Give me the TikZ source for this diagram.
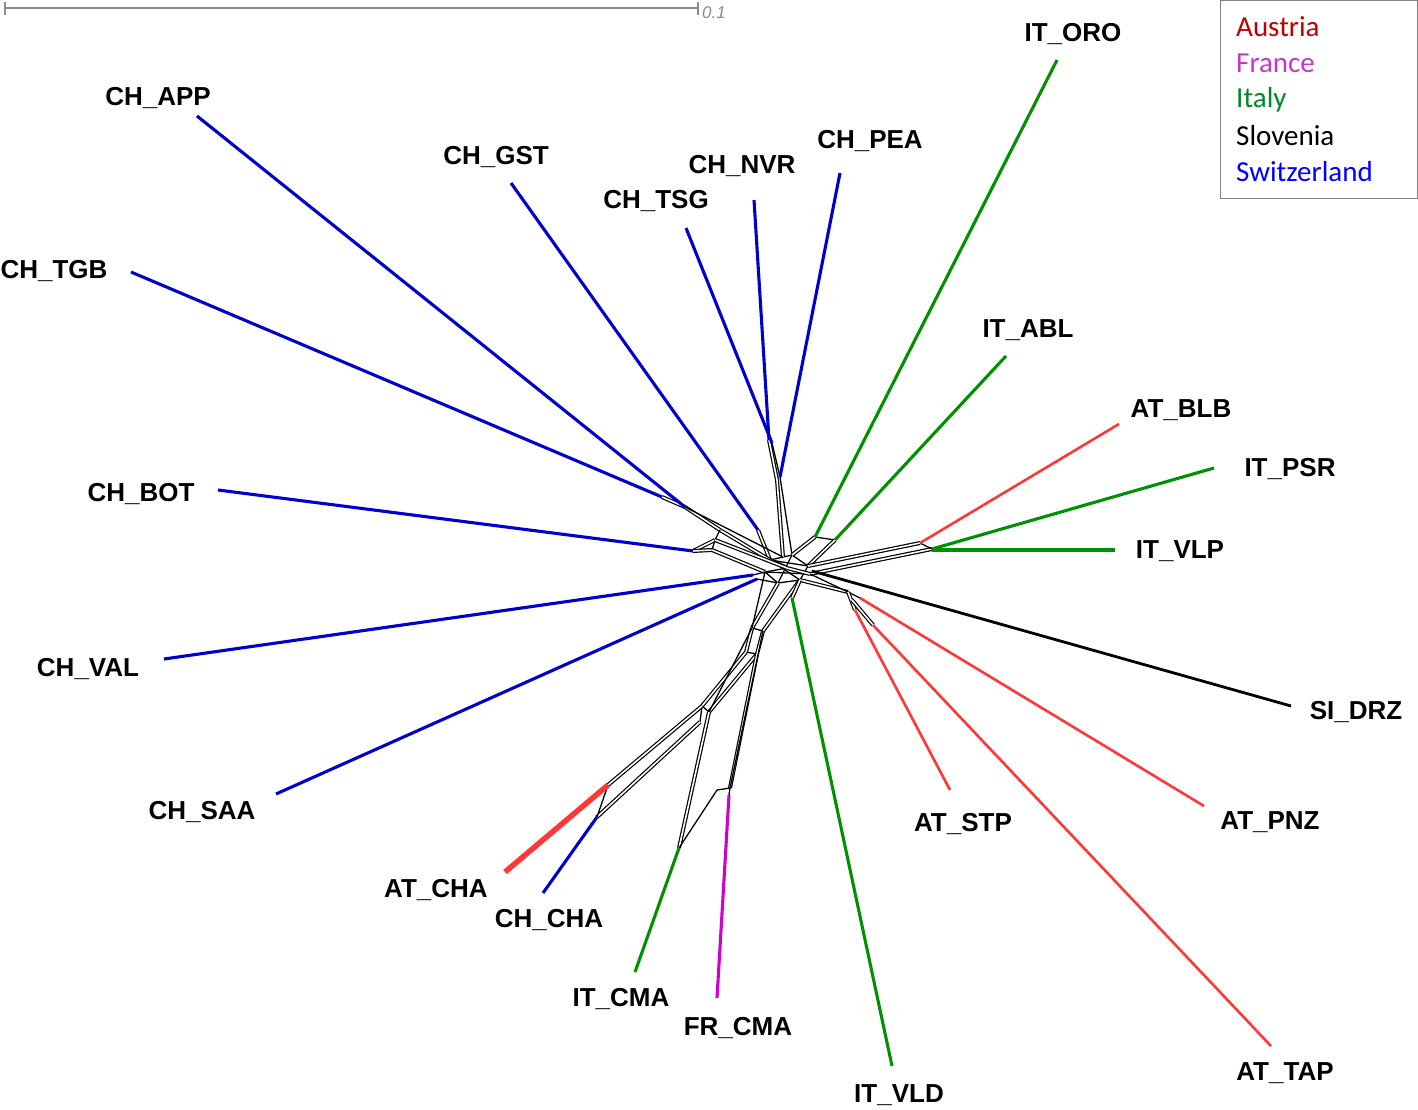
\documentclass[tikz,border=0pt]{standalone}
\usepackage{fontspec}
\setmainfont{Liberation Sans}
\newfontfamily\legfont{Carlito}
\usetikzlibrary{calc}
\definecolor{cblue}{RGB}{0,0,205}
\definecolor{cgreen}{RGB}{0,145,0}
\definecolor{cred}{RGB}{255,55,55}
\definecolor{cmag}{RGB}{205,0,205}
\definecolor{lred}{RGB}{192,0,0}
\definecolor{lmag}{RGB}{204,51,204}
\definecolor{lgreen}{RGB}{0,136,40}
\definecolor{lblue}{RGB}{0,0,255}
\definecolor{sgray}{RGB}{140,140,140}
\begin{document}
\begin{tikzpicture}[x=1pt,y=-1pt,
  lab/.style={font=\fontsize{26}{30}\selectfont\bfseries, inner sep=0pt},
  leg/.style={font=\legfont\fontsize{29}{34}\selectfont, inner sep=0pt, anchor=west},
  leaf/.style={line width=3.1pt},
  net/.style={line width=1.3pt, black},
  dbl/.style={line width=1.2pt, draw=black, double=white, double distance=1.6pt},
]
\useasboundingbox (0,0) rectangle (1418,1110);

% ---------- scale bar ----------
\coordinate (sb1) at (5,8);
\coordinate (sb2) at (698,8);
\draw[sgray, line width=1.6pt] (sb1) -- (sb2);
\draw[sgray, line width=1.4pt] ($(sb1)+(0,-6)$) -- ($(sb1)+(0,7)$);
\draw[sgray, line width=1.4pt] ($(sb2)+(0,-6)$) -- ($(sb2)+(0,7)$);
\node[anchor=west, text=sgray, font=\fontsize{17}{19}\selectfont\itshape, inner sep=0pt] (sbt) at (702,13) {0.1};

% ---------- legend ----------
\node[draw=gray, line width=1pt, minimum width=197pt, minimum height=198pt, inner sep=0pt] (legbox) at (1318.5,100) {};
\node[leg, text=lred]   (l1) at (1236,27)  {Austria};
\node[leg, text=lmag]   (l2) at (1236,63)  {France};
\node[leg, text=lgreen] (l3) at (1236,100) {Italy};
\node[leg, text=black]  (l4) at (1236,136) {Slovenia};
\node[leg, text=lblue]  (l5) at (1236,172) {Switzerland};

% ---------- labels ----------
\node[lab] (tCHAPP) at (158,98)  {CH\_APP};
\node[lab] (tCHGST) at (496,157) {CH\_GST};
\node[lab] (tCHNVR) at (742,166) {CH\_NVR};
\node[lab] (tCHPEA) at (870,141) {CH\_PEA};
\node[lab] (tCHTSG) at (656,201) {CH\_TSG};
\node[lab] (tITORO) at (1073,34) {IT\_ORO};
\node[lab] (tCHTGB) at (54,271)  {CH\_TGB};
\node[lab] (tITABL) at (1028,330) {IT\_ABL};
\node[lab] (tATBLB) at (1181,410) {AT\_BLB};
\node[lab] (tITPSR) at (1290,469) {IT\_PSR};
\node[lab] (tCHBOT) at (141,494) {CH\_BOT};
\node[lab] (tITVLP) at (1180,551) {IT\_VLP};
\node[lab] (tCHVAL) at (88,669)  {CH\_VAL};
\node[lab] (tSIDRZ) at (1356,712) {SI\_DRZ};
\node[lab] (tCHSAA) at (202,812) {CH\_SAA};
\node[lab] (tATSTP) at (963,824) {AT\_STP};
\node[lab] (tATPNZ) at (1270,822) {AT\_PNZ};
\node[lab] (tATCHA) at (436,890) {AT\_CHA};
\node[lab] (tCHCHA) at (549,920) {CH\_CHA};
\node[lab] (tITCMA) at (621,999) {IT\_CMA};
\node[lab] (tFRCMA) at (738,1028) {FR\_CMA};
\node[lab] (tATTAP) at (1285,1073) {AT\_TAP};
\node[lab] (tITVLD) at (899,1095) {IT\_VLD};

% ---------- outer leaf ends ----------
\coordinate (oCHAPP) at (197,116);
\coordinate (oCHGST) at (511,183);
\coordinate (oCHNVR) at (754,200);
\coordinate (oCHPEA) at (840,173);
\coordinate (oCHTSG) at (686,228);
\coordinate (oITORO) at (1057,60);
\coordinate (oCHTGB) at (131,272);
\coordinate (oITABL) at (1006,356);
\coordinate (oATBLB) at (1119,424);
\coordinate (oITPSR) at (1214,468);
\coordinate (oCHBOT) at (218,490);
\coordinate (oITVLP) at (1115,550);
\coordinate (oCHVAL) at (164,659);
\coordinate (oSIDRZ) at (1291,706);
\coordinate (oCHSAA) at (276,794);
\coordinate (oATSTP) at (950,790);
\coordinate (oATPNZ) at (1204,806);
\coordinate (oATCHA) at (505,872);
\coordinate (oCHCHA) at (543,893);
\coordinate (oITCMA) at (635,972);
\coordinate (oFRCMA) at (717,998);
\coordinate (oATTAP) at (1271,1046);
\coordinate (oITVLD) at (892,1066);

% ---------- inner leaf ends ----------
\coordinate (iCHAPP) at (685,507);
\coordinate (iCHGST) at (758,530);
\coordinate (iCHNVR) at (769,440);
\coordinate (iCHPEA) at (780,477);
\coordinate (iCHTSG) at (772,443);
\coordinate (iITORO) at (815,537);
\coordinate (iCHTGB) at (662,497);
\coordinate (iITABL) at (835,540);
\coordinate (iATBLB) at (920,543);
\coordinate (iITPSR) at (932,549);
\coordinate (iCHBOT) at (693,551);
\coordinate (iITVLP) at (932,550);
\coordinate (iCHVAL) at (753,575);
\coordinate (iSIDRZ) at (812,571);
\coordinate (iCHSAA) at (757,579);
\coordinate (iATSTP) at (855,610);
\coordinate (iATPNZ) at (860,598);
\coordinate (iATCHA) at (608,785);
\coordinate (iCHCHA) at (597,817);
\coordinate (iITCMA) at (679,848);
\coordinate (iFRCMA) at (729,795);
\coordinate (iATTAP) at (873,625);
\coordinate (iITVLD) at (792,598);

% ---------- network junctions ----------
\coordinate (u1) at (777,480);
\coordinate (h0) at (783,557);
\coordinate (hA) at (770,560);
\coordinate (hB) at (792,555);
\coordinate (hC) at (808,566);
\coordinate (hC2) at (810,574);
\coordinate (hD) at (800,580);
\coordinate (hE) at (778,583);
\coordinate (hF) at (765,572);
\coordinate (hM) at (787,568);
\coordinate (l1) at (720,530);
\coordinate (l2) at (715,540);
\coordinate (l3) at (712,550);
\coordinate (lbA) at (752,628);
\coordinate (lbA2) at (763,631);
\coordinate (lbB) at (746,652);
\coordinate (lbB2) at (757,654);
\coordinate (lbC) at (702,706);
\coordinate (lbC2) at (709,712);
\coordinate (lbD) at (700,722);
\coordinate (fr1) at (730,788);
\coordinate (fr2) at (717,790);
\coordinate (at0) at (848,592);
\coordinate (at1) at (852,600);

% ---------- black network ----------
% hub tangle
\draw[net] (hA) -- (hC);
\draw[net] (hF) -- (hC2);
\draw[net] (hA) -- (hD);
\draw[net] (hB) -- (hE);
\draw[net] (hA) -- (hB);
\draw[net] (hF) -- (hE);
\draw[net] (hE) -- (hD);
\draw[net] (hB) -- (hC);
\draw[net] (hC) -- (hD);
\draw[net] (hF) -- (hM);
\draw[dbl] (hA) -- (hM);
\draw[dbl] (hM) -- (hC2);
% upper
\draw[dbl] (iCHNVR) -- (u1);
\draw[net] (iCHTSG) -- (iCHPEA);
\draw[dbl] (u1) -- (h0);
\draw[net] (iCHPEA) -- (hB);
% CH_GST
\draw[dbl] (iCHGST) -- (hA);
% left bundle
\draw[dbl] (iCHTGB) -- (iCHAPP);
\draw[dbl] (iCHAPP) -- (l1);
\draw[dbl] (l1) -- (hA);
\draw[net] (iCHAPP) -- (h0);
\draw[dbl] (iCHBOT) -- (l2);
\draw[dbl] (iCHBOT) -- (l3);
\draw[net] (l2) -- (l1);
\draw[net] (l2) -- (l3);
\draw[dbl] (l2) -- (hM);
\draw[dbl] (l3) -- (hF);
% CH_VAL, CH_SAA
\draw[net] (iCHVAL) -- (hF);
\draw[net] (iCHSAA) -- (hE);
% lower bundle
\draw[dbl] (hE) -- (lbA);
\draw[dbl] (hD) -- (lbA2);
\draw[net] (hF) -- (lbA);
\draw[net] (lbA) -- (lbA2);
\draw[net] (lbB) -- (lbB2);
\draw[dbl] (lbA) -- (lbB);
\draw[dbl] (lbA2) -- (lbB2);
\draw[dbl] (lbB) -- (lbC);
\draw[dbl] (lbB2) -- (lbC2);
\draw[net] (lbA) -- (lbC2);
\draw[net] (lbC) -- (lbC2);
\draw[net] (lbC) -- (lbD);
\draw[dbl] (lbC) -- (iATCHA);
\draw[dbl] (lbD) -- (iCHCHA);
\draw[net] (iATCHA) -- (iCHCHA);
\draw[dbl] (lbC2) -- (iITCMA);
\draw[dbl] (lbB2) -- (fr1);
\draw[net] (lbA2) -- (fr1);
\draw[net] (fr1) -- (iFRCMA);
\draw[net] (fr2) -- (fr1);
\draw[net] (fr2) -- (iITCMA);
% right upper (Italy)
\draw[net] (iITORO) -- (iITABL);
\draw[dbl] (iITORO) -- (hB);
\draw[dbl] (iITABL) -- (hC);
% right (BLB, PSR, VLP)
\draw[dbl] (hC) -- (iATBLB);
\draw[dbl] (hC2) -- (iITPSR);
\draw[net] (iATBLB) -- (iITPSR);
% lower right (Austria)
\draw[dbl] (hD) -- (at0);
\draw[net] (hC2) -- (at0);
\draw[net] (at0) -- (iATPNZ);
\draw[dbl] (at0) -- (iATSTP);
\draw[dbl] (at1) -- (iATTAP);
% IT_VLD stem
\draw[dbl] (hD) -- (iITVLD);

% ---------- coloured leaf edges ----------
\draw[leaf, cblue] (oCHAPP) -- (iCHAPP);
\draw[leaf, cblue] (oCHGST) -- (iCHGST);
\draw[leaf, cblue] (oCHNVR) -- (iCHNVR);
\draw[leaf, cblue] (oCHPEA) -- (iCHPEA);
\draw[leaf, cblue] (oCHTSG) -- (iCHTSG);
\draw[leaf, cblue] (oCHTGB) -- (iCHTGB);
\draw[leaf, cblue] (oCHBOT) -- (iCHBOT);
\draw[leaf, cblue] (oCHVAL) -- (iCHVAL);
\draw[leaf, cblue] (oCHSAA) -- (iCHSAA);
\draw[leaf, cblue] (oCHCHA) -- (iCHCHA);
\draw[leaf, cgreen] (oITORO) -- (iITORO);
\draw[leaf, cgreen] (oITABL) -- (iITABL);
\draw[leaf, cgreen] (oITPSR) -- (iITPSR);
\draw[leaf, cgreen] (oITVLP) -- (iITVLP);
\draw[leaf, cgreen] (oITCMA) -- (iITCMA);
\draw[leaf, cgreen] (oITVLD) -- (iITVLD);
\draw[leaf, cred, line width=2.6pt] (oATBLB) -- (iATBLB);
\draw[leaf, cred, line width=2.6pt] (oATSTP) -- (iATSTP);
\draw[leaf, cred, line width=2.6pt] (oATPNZ) -- (iATPNZ);
\draw[leaf, cred, line width=2.6pt] (oATTAP) -- (iATTAP);
\draw[leaf, cred, line width=5.5pt] (oATCHA) -- (iATCHA);
\draw[leaf, cmag] (oFRCMA) -- (iFRCMA);
\draw[leaf, black, line width=2.8pt] (oSIDRZ) -- (iSIDRZ);
\end{tikzpicture}
\end{document}
